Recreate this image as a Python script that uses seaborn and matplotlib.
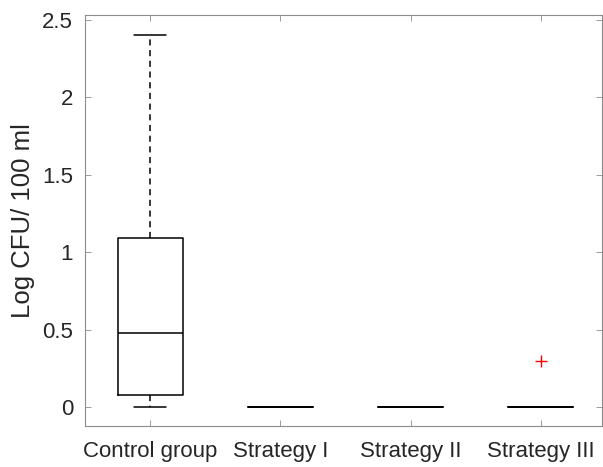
import matplotlib
matplotlib.use("Agg")
import matplotlib.pyplot as plt
import seaborn as sns
import pandas as pd

# Log CFU per 100 ml measured for each treatment group
groups = ["Control group", "Strategy I", "Strategy II", "Strategy III"]
control_group = [0.0, 0.08, 0.48, 1.09, 2.4]
strategy_i = [0.0, 0.0, 0.0, 0.0, 0.0]
strategy_ii = [0.0, 0.0, 0.0, 0.0, 0.0]
strategy_iii = [0.0, 0.0, 0.0, 0.0, 0.3]
y_ticks = [0, 0.5, 1, 1.5, 2, 2.5]
y_tick_labels = ["0", "0.5", "1", "1.5", "2", "2.5"]

series = [control_group, strategy_i, strategy_ii, strategy_iii]
df = pd.DataFrame(
    [(g, v) for g, vals in zip(groups, series) for v in vals],
    columns=["group", "value"],
)

sns.set_theme(style="white")
plt.rcParams["font.family"] = ["Liberation Sans", "DejaVu Sans"]

fig = plt.figure(figsize=(6.03, 4.67), dpi=100)
ax = fig.add_axes([85 / 603, 1 - 426 / 467, (602 - 85) / 603, (426 - 15) / 467])

sns.boxplot(
    data=df, x="group", y="value", order=groups, ax=ax,
    width=0.5, whis=1.5, fill=False, color="black", linewidth=1.1,
    whiskerprops=dict(linestyle=(0, (4, 3)), color="black"),
    capprops=dict(color="black"),
    medianprops=dict(color="black"),
    boxprops=dict(color="black"),
    flierprops=dict(marker="+", markeredgecolor="#ff0000", color="#ff0000",
                    markerfacecolor="none", markersize=8, markeredgewidth=1.0,
                    linestyle="none"),
)

ax.set_xlim(-0.5, 3.47)
ax.set_ylim(-0.12, 2.53)
ax.set_yticks(y_ticks)
ax.set_yticklabels(y_tick_labels)
ax.set_xlabel("")
ax.set_ylabel("Log CFU/ 100 ml", fontsize=18.5, color="#262626", labelpad=5.5)

for s in ax.spines.values():
    s.set_visible(True)
    s.set_color("#8c8c8c")
    s.set_linewidth(0.8)

ax.tick_params(axis="both", direction="in", length=4, width=0.6, color="#8c8c8c",
               labelsize=16, labelcolor="#262626",
               top=True, right=True, bottom=True, left=True)
ax.tick_params(axis="x", pad=10.5)
ax.tick_params(axis="y", pad=8.5)

fig.savefig("out.png", dpi=100)
